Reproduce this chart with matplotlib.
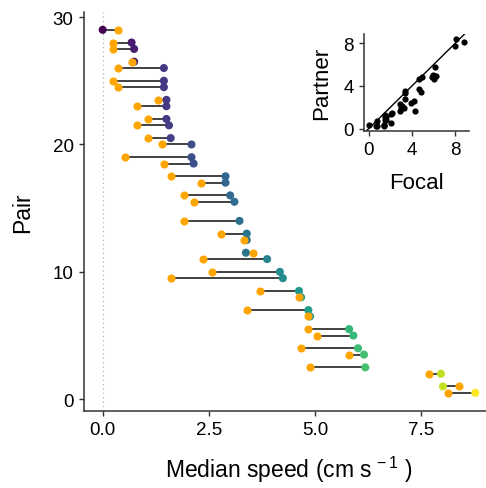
import numpy as np
import matplotlib
matplotlib.use("Agg")
import matplotlib.pyplot as plt

plt.rcParams['font.family'] = ['Liberation Sans', 'DejaVu Sans']
plt.rcParams['mathtext.fontset'] = 'custom'
plt.rcParams['mathtext.rm'] = 'Liberation Sans'
plt.rcParams['mathtext.it'] = 'Liberation Sans:italic'

# pair position on the y axis, partner and focal median speeds (cm/s)
pair_pos = [29, 28, 27.5, 26.5, 26, 25, 24.5, 23.5, 23, 22, 21.5, 20.5, 20,
            19, 18.5, 17.5, 17, 16, 15.5, 14, 13, 12.5, 11.5, 11, 10, 9.5,
            8.5, 8, 7, 6.5, 5.5, 5, 4, 3.5, 2.5, 2, 1, 0.5]
partner = [0.37, 0.25, 0.25, 0.68, 0.37, 0.25, 0.37, 1.29, 0.80, 1.07, 0.80,
           1.07, 1.39, 0.52, 1.44, 1.60, 2.31, 1.92, 2.14, 1.92, 2.79, 3.32,
           3.54, 2.37, 2.57, 1.60, 3.70, 4.62, 3.39, 4.84, 4.84, 5.05, 4.67,
           5.80, 4.88, 7.69, 8.38, 8.12]
focal = [0.00, 0.68, 0.74, 0.74, 1.44, 1.44, 1.44, 1.50, 1.50, 1.50, 1.56,
         1.60, 2.09, 2.09, 2.14, 2.89, 2.89, 3.00, 3.10, 3.22, 3.39, 3.39,
         3.37, 3.87, 4.17, 4.24, 4.62, 4.67, 4.84, 4.88, 5.80, 5.90, 6.01,
         6.15, 6.18, 7.96, 8.01, 8.77]

pair_pos = np.array(pair_pos)
partner = np.array(partner)
focal = np.array(focal)

W, H = 486, 489
fig = plt.figure(figsize=(W / 100, H / 100), dpi=100)

# main dumbbell panel (pixel box -> figure fraction)
left, right, top, bottom = 84, 494, 12.6, 412
ax = fig.add_axes([left / W, 1 - bottom / H, (right - left) / W, (bottom - top) / H])

ax.axvline(0, color='#b0b0b0', lw=0.9, ls=(0, (1, 2.5)), zorder=0)
ax.hlines(pair_pos, partner, focal, color='#333333', lw=1.3, zorder=1)
ax.scatter(focal, pair_pos, c=focal, cmap='viridis', vmin=focal.min(),
           vmax=focal.max(), s=34, linewidths=0, zorder=2)
ax.scatter(partner, pair_pos, color='#FFA500', s=34, linewidths=0, zorder=3)

ax.set_xlim(-0.44, 9.21)
ax.set_ylim(-0.925, 30.43)
ax.set_xticks([0, 2.5, 5, 7.5])
ax.set_xticklabels(['0.0', '2.5', '5.0', '7.5'])
ax.set_yticks([0, 10, 20, 30])
for s in ['top', 'right']:
    ax.spines[s].set_visible(False)
for s in ['left', 'bottom']:
    ax.spines[s].set_color('#333333')
    ax.spines[s].set_linewidth(1.1)
ax.tick_params(labelsize=13.5, length=3.5, width=1.0, color='#333333',
               labelcolor='black', pad=4)
ax.set_xlabel(r'Median speed (cm s$^{\,-1}$ )', fontsize=16.5, labelpad=11)
ax.set_ylabel('Pair', fontsize=16.5, labelpad=13)

# inset: partner vs focal with the identity line
ileft, iright, itop, ibottom = 364, 468.5, 35, 131.7
ins = fig.add_axes([ileft / W, 1 - ibottom / H, (iright - ileft) / W, (ibottom - itop) / H])
ins.axline((0, 0), slope=1, color='black', lw=1.0, zorder=1)
ins.scatter(focal, partner, color='black', s=20, linewidths=0, zorder=2)
ins.set_xlim(-0.44, 9.21)
ins.set_ylim(-0.2, 8.85)
ins.set_xticks([0, 4, 8])
ins.set_yticks([0, 4, 8])
for s in ['top', 'right']:
    ins.spines[s].set_visible(False)
for s in ['left', 'bottom']:
    ins.spines[s].set_color('#333333')
    ins.spines[s].set_linewidth(1.1)
ins.tick_params(labelsize=13.5, length=3.5, width=1.0, color='#333333', pad=4)
ins.set_xlabel('Focal', fontsize=16, labelpad=10)
ins.set_ylabel('Partner', fontsize=16, labelpad=8)

fig.savefig('out.png', dpi=100)
